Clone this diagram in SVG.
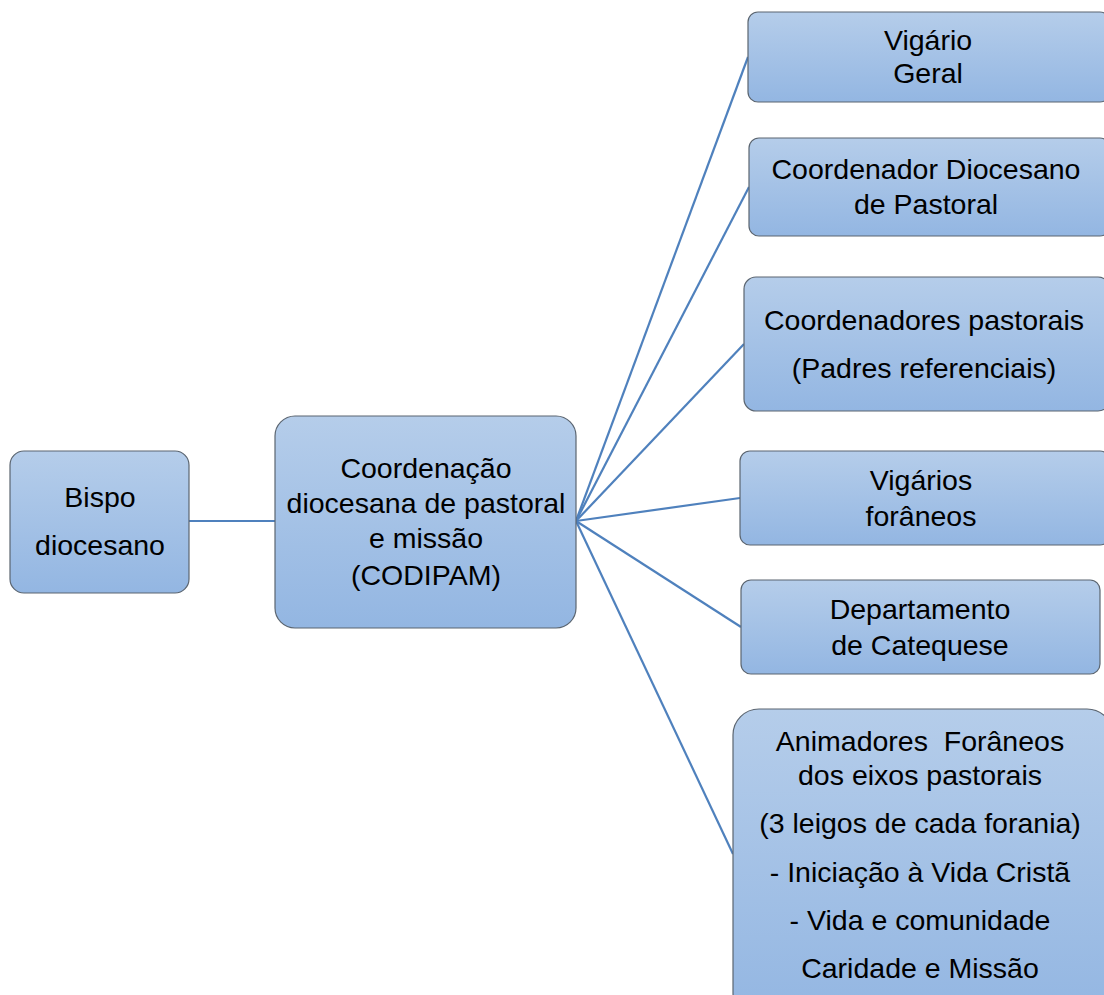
<svg xmlns="http://www.w3.org/2000/svg" width="1104" height="995" viewBox="0 0 1104 995">
<defs>
<linearGradient id="g" x1="0" y1="0" x2="0" y2="1">
<stop offset="0" stop-color="#b5cdea"/>
<stop offset="1" stop-color="#93b6e2"/>
</linearGradient>
<style>
.box{fill:url(#g);stroke:#5b6570;stroke-width:1.2}
.t{font-family:"Liberation Sans",Arial,sans-serif;font-size:28.5px;fill:#000;text-anchor:middle}
.c{stroke:#4f81bd;stroke-width:2.2;fill:none}
</style>
</defs>
<rect width="1104" height="995" fill="#fff"/>
<g id="connectors">
<line class="c" x1="189" y1="521" x2="275" y2="521"/>
<line class="c" x1="576" y1="521" x2="748" y2="57"/>
<line class="c" x1="576" y1="521" x2="749" y2="187"/>
<line class="c" x1="576" y1="521" x2="744" y2="344"/>
<line class="c" x1="576" y1="521" x2="740" y2="498"/>
<line class="c" x1="576" y1="521" x2="741" y2="627"/>
<line class="c" x1="576" y1="521" x2="733" y2="854"/>
</g>
<g id="bispo">
<rect class="box" x="10" y="451" width="179" height="142" rx="14"/>
<text class="t" x="100" y="507">Bispo</text>
<text class="t" x="100" y="555">diocesano</text>
</g>
<g id="codipam">
<rect class="box" x="275" y="416" width="301" height="212" rx="20"/>
<text class="t" x="426" y="478">Coordenação</text>
<text class="t" x="426" y="513">diocesana de pastoral</text>
<text class="t" x="426" y="548">e missão</text>
<text class="t" x="426" y="585">(CODIPAM)</text>
</g>
<g id="vigario-geral">
<rect class="box" x="748" y="12" width="362" height="90" rx="10"/>
<text class="t" x="928" y="50">Vigário</text>
<text class="t" x="928" y="83">Geral</text>
</g>
<g id="coord-diocesano">
<rect class="box" x="749" y="138" width="361" height="98" rx="10"/>
<text class="t" x="926" y="179">Coordenador Diocesano</text>
<text class="t" x="926" y="214">de Pastoral</text>
</g>
<g id="coord-pastorais">
<rect class="box" x="744" y="277" width="366" height="134" rx="12"/>
<text class="t" x="924" y="330">Coordenadores pastorais</text>
<text class="t" x="924" y="378">(Padres referenciais)</text>
</g>
<g id="vigarios-foraneos">
<rect class="box" x="740" y="451" width="370" height="94" rx="10"/>
<text class="t" x="921" y="490">Vigários</text>
<text class="t" x="921" y="526">forâneos</text>
</g>
<g id="catequese">
<rect class="box" x="741" y="580" width="359" height="94" rx="10"/>
<text class="t" x="920" y="619">Departamento</text>
<text class="t" x="920" y="655">de Catequese</text>
</g>
<g id="animadores">
<rect class="box" x="733" y="709" width="380" height="310" rx="26"/>
<text class="t" x="920" y="751" xml:space="preserve">Animadores  Forâneos</text>
<text class="t" x="920" y="785">dos eixos pastorais</text>
<text class="t" x="920" y="833">(3 leigos de cada forania)</text>
<text class="t" x="920" y="882">- Iniciação à Vida Cristã</text>
<text class="t" x="920" y="930">- Vida e comunidade</text>
<text class="t" x="920" y="978">Caridade e Missão</text>
</g>
</svg>
